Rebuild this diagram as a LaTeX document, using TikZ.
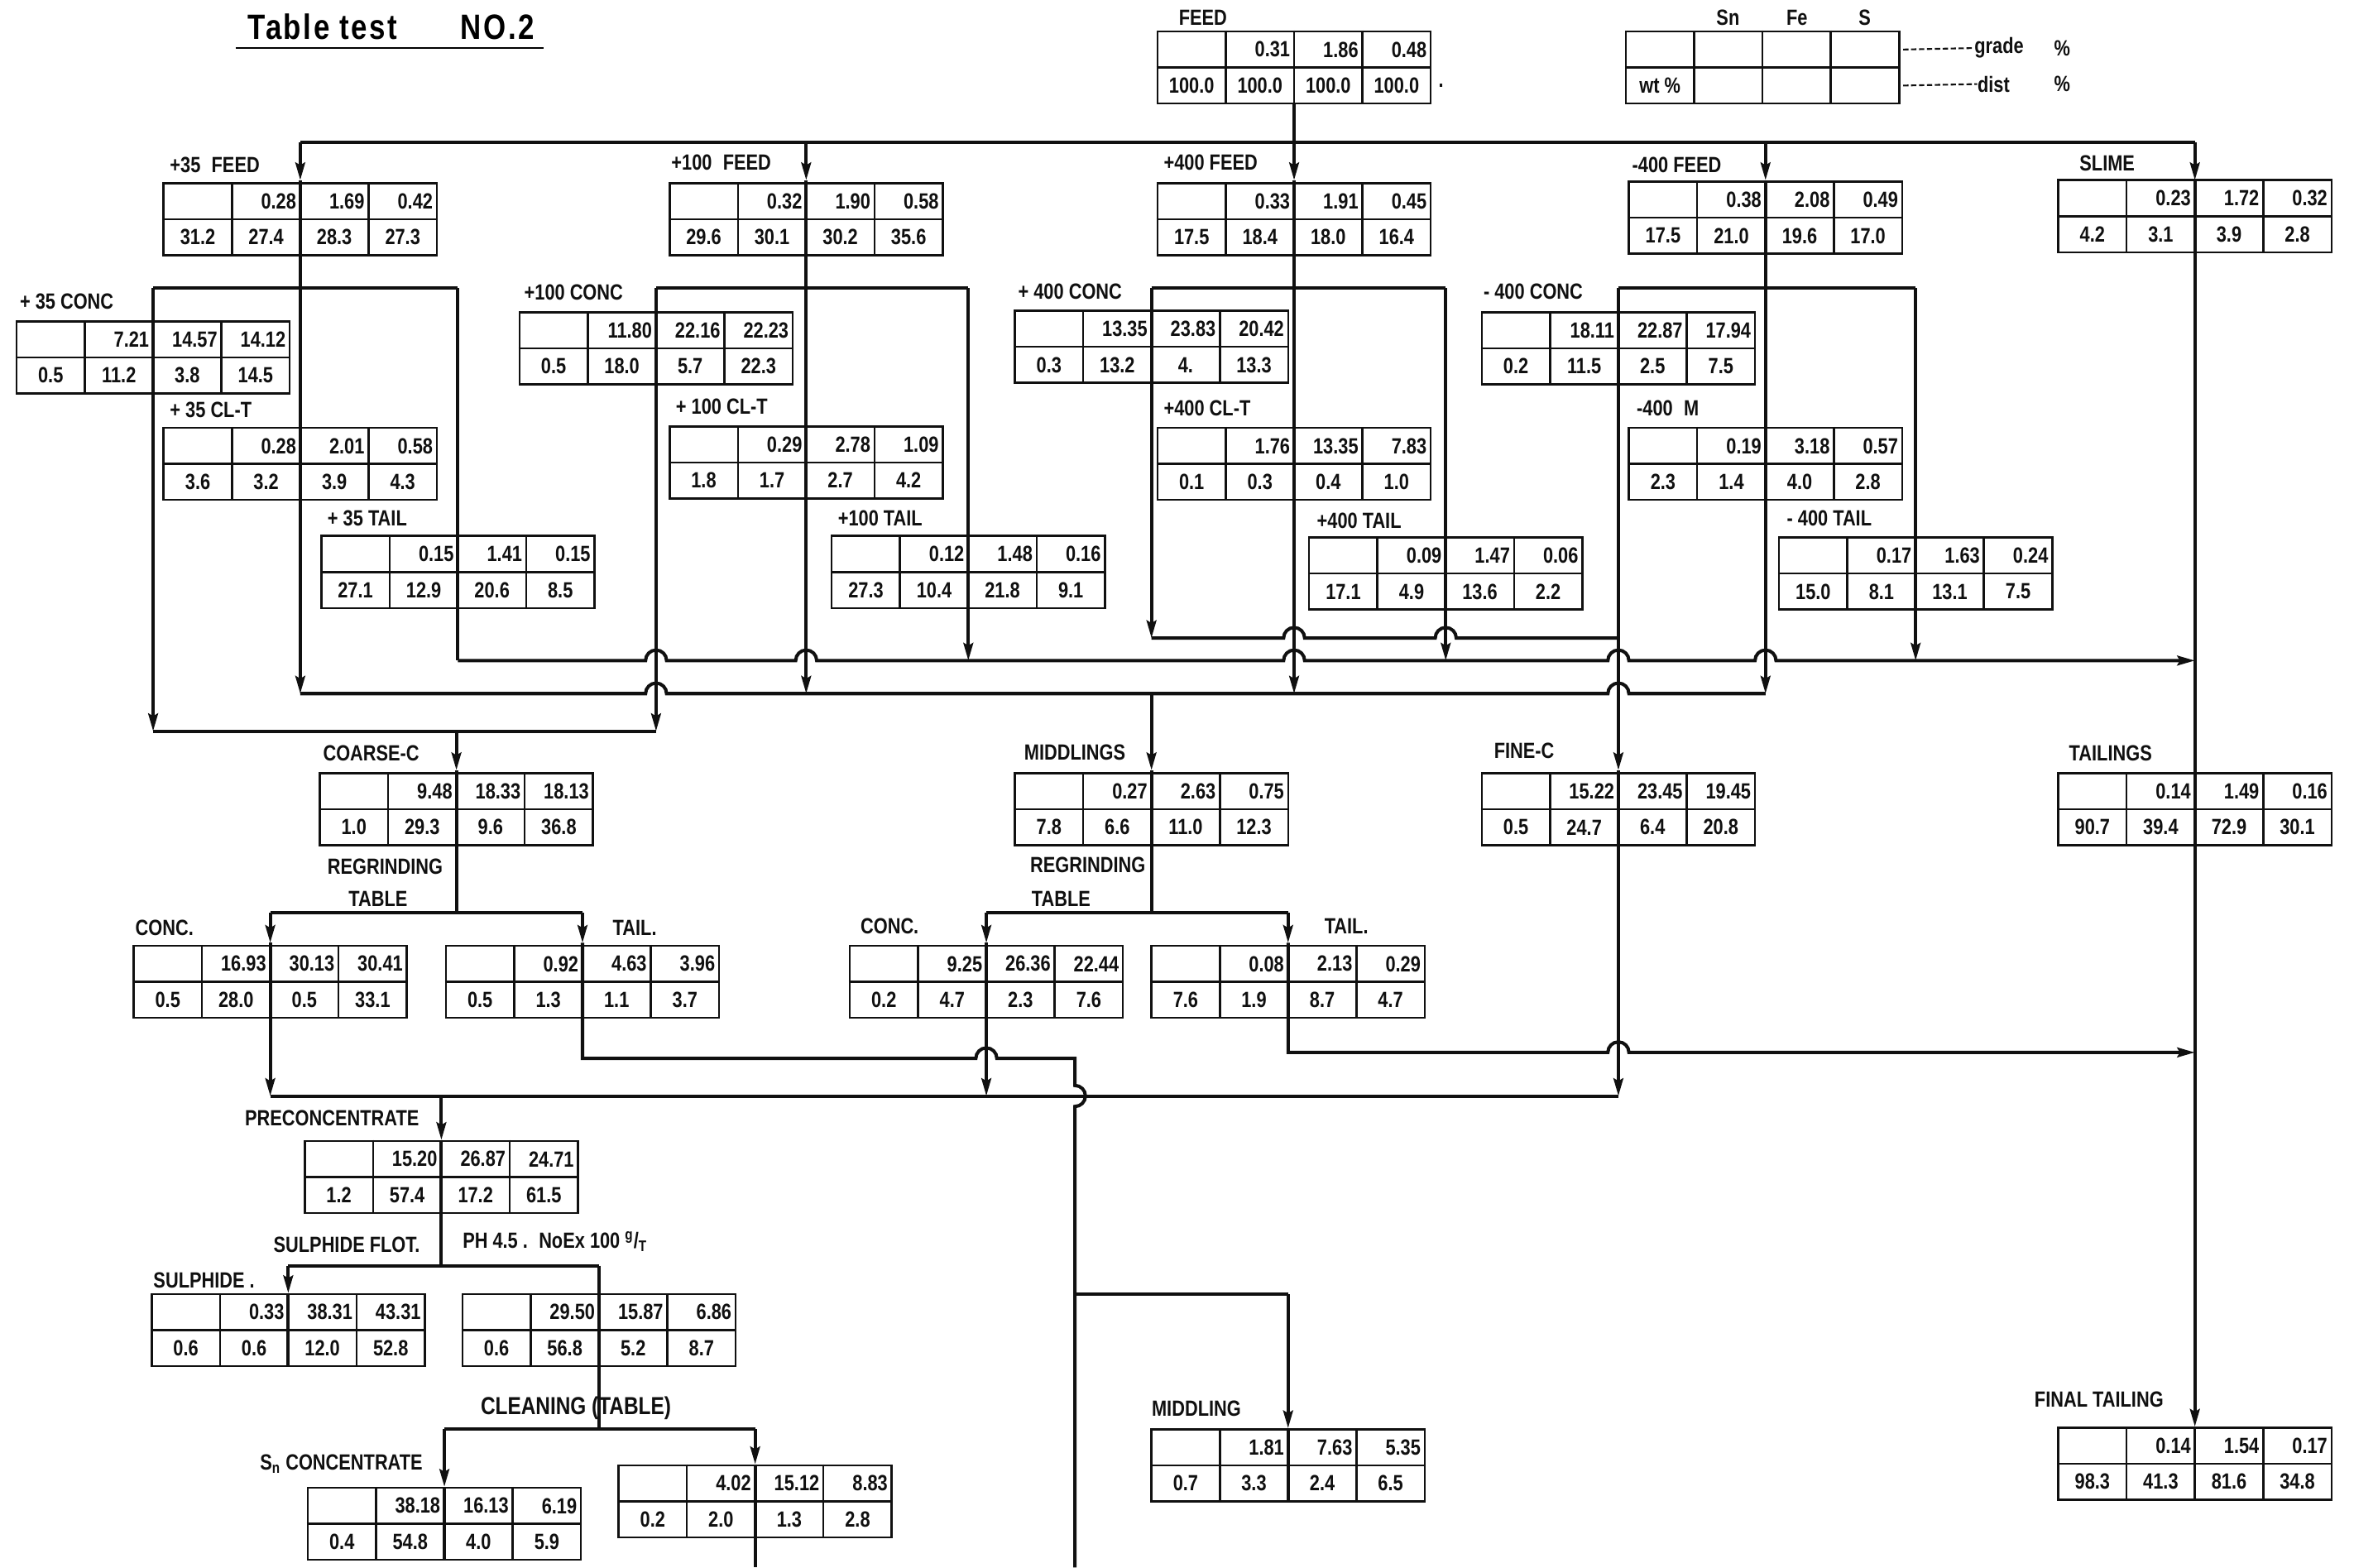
\documentclass[tikz,border=0pt]{standalone}
\usepackage{fontspec}
\setmainfont{Liberation Sans}[FakeStretch=0.82]
\newfontfamily\titlefont{Liberation Sans}[FakeStretch=0.82, LetterSpace=6]
\usetikzlibrary{calc, arrows.meta}
\definecolor{inkLine}{HTML}{101010}
\definecolor{paper}{HTML}{FFFFFF}

\newcommand{\cellfont}{\fontsize{12.5}{14}\selectfont\bfseries}
\newcommand{\labfont}{\fontsize{12.5}{14}\selectfont\bfseries}

\tikzset{
  flow/.style={draw=inkLine, line width=1.9pt},
  flowarr/.style={flow, -{Stealth[length=10pt,width=5.5pt,inset=1.5pt]}},
  tabframe/.style={draw=inkLine, line width=1.2pt, minimum width=54.6mm, minimum height=14.4mm, inner sep=0pt},
  tabrule/.style={draw=inkLine, line width=1.2pt},
  gradecell/.style={anchor=east, inner sep=0pt, font=\cellfont, text=inkLine},
  distcell/.style={anchor=center, inner sep=0pt, font=\cellfont, text=inkLine},
  lab/.style={anchor=west, inner sep=0pt, font=\labfont, text=inkLine},
  leader/.style={draw=inkLine, line width=1pt, dash pattern=on 3pt off 1.5pt},
  hop/.style={start angle=180, end angle=360, radius=7},
  vhop/.style={start angle=-90, end angle=90, radius=7}
}

% assay box: name, centre, Sn/Fe/S grade, wt, Sn/Fe/S dist
\newcommand{\assaytab}[9]{%
  \node[tabframe] (#1) at (#2) {};
  \draw[tabrule] (#1.west) -- (#1.east);
  \foreach \k in {-45.5,0,45.5}
    \draw[tabrule] ($(#1.north)+(\k,0)$) -- ($(#1.south)+(\k,0)$);
  \node[gradecell] (#1-sn) at ($(#1)+(-2.5,-12)$) {#3};
  \node[gradecell] (#1-fe) at ($(#1)+(43,-12)$) {#4};
  \node[gradecell] (#1-s) at ($(#1)+(88.5,-12)$) {#5};
  \node[distcell] (#1-wt) at ($(#1)+(-68.25,12)$) {#6};
  \node[distcell] (#1-snd) at ($(#1)+(-22.75,12)$) {#7};
  \node[distcell] (#1-fed) at ($(#1)+(22.75,12)$) {#8};
  \node[distcell] (#1-sd) at ($(#1)+(68.25,12)$) {#9};
}

\begin{document}
\begin{tikzpicture}[x=0.3mm, y=-0.3mm]
\fill[paper] (0,0) rectangle (1568,1044);
\useasboundingbox (0,0) rectangle (1568,1044);

\node[anchor=west, inner sep=0pt, font=\titlefont\fontsize{20}{22}\selectfont\bfseries] (title) at (165,18) {Table test\hspace{1.8em}NO.2};
\draw[line width=1.3pt] (157,32) -- (362,32);

% assay boxes
\assaytab{feed}{862,45}{0.31}{1.86}{0.48}{100.0}{100.0}{100.0}{100.0}
\assaytab{key}{1174,45}{}{}{}{wt \%}{}{}{}
\assaytab{f35}{200,146}{0.28}{1.69}{0.42}{31.2}{27.4}{28.3}{27.3}
\assaytab{f100}{537,146}{0.32}{1.90}{0.58}{29.6}{30.1}{30.2}{35.6}
\assaytab{f400}{862,146}{0.33}{1.91}{0.45}{17.5}{18.4}{18.0}{16.4}
\assaytab{fm400}{1176,145}{0.38}{2.08}{0.49}{17.5}{21.0}{19.6}{17.0}
\assaytab{slime}{1462,144}{0.23}{1.72}{0.32}{4.2}{3.1}{3.9}{2.8}
\assaytab{c35}{102,238}{7.21}{14.57}{14.12}{0.5}{11.2}{3.8}{14.5}
\assaytab{c100}{437,232}{11.80}{22.16}{22.23}{0.5}{18.0}{5.7}{22.3}
\assaytab{c400}{767,231}{13.35}{23.83}{20.42}{0.3}{13.2}{4.}{13.3}
\assaytab{cm400}{1078,232}{18.11}{22.87}{17.94}{0.2}{11.5}{2.5}{7.5}
\assaytab{m35}{200,309}{0.28}{2.01}{0.58}{3.6}{3.2}{3.9}{4.3}
\assaytab{m100}{537,308}{0.29}{2.78}{1.09}{1.8}{1.7}{2.7}{4.2}
\assaytab{m400}{862,309}{1.76}{13.35}{7.83}{0.1}{0.3}{0.4}{1.0}
\assaytab{mm400}{1176,309}{0.19}{3.18}{0.57}{2.3}{1.4}{4.0}{2.8}
\assaytab{t35}{305,381}{0.15}{1.41}{0.15}{27.1}{12.9}{20.6}{8.5}
\assaytab{t100}{645,381}{0.12}{1.48}{0.16}{27.3}{10.4}{21.8}{9.1}
\assaytab{t400}{963,382}{0.09}{1.47}{0.06}{17.1}{4.9}{13.6}{2.2}
\assaytab{tm400}{1276,382}{0.17}{1.63}{0.24}{15.0}{8.1}{13.1}{7.5}
\assaytab{coarse}{304,539}{9.48}{18.33}{18.13}{1.0}{29.3}{9.6}{36.8}
\assaytab{midd}{767,539}{0.27}{2.63}{0.75}{7.8}{6.6}{11.0}{12.3}
\assaytab{fine}{1078,539}{15.22}{23.45}{19.45}{0.5}{24.7}{6.4}{20.8}
\assaytab{tails}{1462,539}{0.14}{1.49}{0.16}{90.7}{39.4}{72.9}{30.1}
\assaytab{rcconc}{180,654}{16.93}{30.13}{30.41}{0.5}{28.0}{0.5}{33.1}
\assaytab{rctail}{388,654}{0.92}{4.63}{3.96}{0.5}{1.3}{1.1}{3.7}
\assaytab{rmconc}{657,654}{9.25}{26.36}{22.44}{0.2}{4.7}{2.3}{7.6}
\assaytab{rmtail}{858,654}{0.08}{2.13}{0.29}{7.6}{1.9}{8.7}{4.7}
\assaytab{precon}{294,784}{15.20}{26.87}{24.71}{1.2}{57.4}{17.2}{61.5}
\assaytab{sulph}{192,886}{0.33}{38.31}{43.31}{0.6}{0.6}{12.0}{52.8}
\assaytab{flottail}{399,886}{29.50}{15.87}{6.86}{0.6}{56.8}{5.2}{8.7}
\assaytab{snconc}{296,1015}{38.18}{16.13}{6.19}{0.4}{54.8}{4.0}{5.9}
\assaytab{cleantail}{503,1000}{4.02}{15.12}{8.83}{0.2}{2.0}{1.3}{2.8}
\assaytab{middling}{858,976}{1.81}{7.63}{5.35}{0.7}{3.3}{2.4}{6.5}
\assaytab{final}{1462,975}{0.14}{1.54}{0.17}{98.3}{41.3}{81.6}{34.8}

% key
\node[lab, anchor=center] (keysn) at (1151,12) {Sn};
\node[lab, anchor=center] (keyfe) at (1197,12) {Fe};
\node[lab, anchor=center] (keys) at (1242,12) {S};
\node[lab] (keygrade) at (1315,32) {grade};
\node[lab] (keypc1) at (1368,32) {\%};
\node[lab] (keydist) at (1317,56) {dist};
\node[lab] (keypc2) at (1368,56) {\%};
\draw[leader] ($(key.east)+(2,-12)$) -- (keygrade.west);
\draw[leader] ($(key.east)+(2,12)$) -- (keydist.west);
\node[lab] (feeddot) at (958,57) {.};

% labels
\node[lab] (lfeed) at (785,12) {FEED};
\node[lab] (l35feed) at (113,110) {+35\enspace FEED};
\node[lab] (l100feed) at (447,108) {+100\enspace FEED};
\node[lab] (l400feed) at (775,108) {+400 FEED};
\node[lab] (lm400feed) at (1087,110) {-400 FEED};
\node[lab] (lslime) at (1385,109) {SLIME};
\node[lab] (l35conc) at (13,201) {+ 35 CONC};
\node[lab] (l100conc) at (349,195) {+100 CONC};
\node[lab] (l400conc) at (678,194) {+ 400 CONC};
\node[lab] (lm400conc) at (988,194) {- 400 CONC};
\node[lab] (l35clt) at (113,273) {+ 35 CL-T};
\node[lab] (l100clt) at (450,271) {+ 100 CL-T};
\node[lab] (l400clt) at (775,272) {+400 CL-T};
\node[lab] (lm400m) at (1090,272) {-400\enspace M};
\node[lab] (l35tail) at (218,345) {+ 35 TAIL};
\node[lab] (l100tail) at (558,345) {+100 TAIL};
\node[lab] (l400tail) at (877,347) {+400 TAIL};
\node[lab] (lm400tail) at (1190,345) {- 400 TAIL};
\node[lab] (lcoarse) at (215,502) {COARSE-C};
\node[lab] (lmidd) at (682,501) {MIDDLINGS};
\node[lab] (lfine) at (995,500) {FINE-C};
\node[lab] (ltails) at (1378,502) {TAILINGS};
\node[lab] (lregc) at (218,577) {REGRINDING};
\node[lab] (ltabc) at (232,599) {TABLE};
\node[lab] (lregm) at (686,576) {REGRINDING};
\node[lab] (ltabm) at (687,599) {TABLE};
\node[lab] (lrcconc) at (90,618) {CONC.};
\node[lab] (lrctail) at (408,618) {TAIL.};
\node[lab] (lrmconc) at (573,617) {CONC.};
\node[lab] (lrmtail) at (882,617) {TAIL.};
\node[lab] (lprecon) at (163,745) {PRECONCENTRATE};
\node[lab] (lsflot) at (182,829) {SULPHIDE FLOT.};
\node[lab] (lph) at (308,827) {PH 4.5 .\enspace NoEx 100 \textsuperscript{g}/\textsubscript{T}};
\node[lab] (lsulph) at (102,853) {SULPHIDE .};
\node[lab, font=\fontsize{14}{16}\selectfont\bfseries] (lclean) at (320,938) {CLEANING (TABLE)};
\node[lab] (lsnconc) at (173,975) {S\textsubscript{n} CONCENTRATE};
\node[lab] (lmiddling) at (767,938) {MIDDLING};
\node[lab] (lfinal) at (1355,932) {FINAL TAILING};

% junction points
\coordinate (b35) at (200,95);
\coordinate (b100) at (537,95);
\coordinate (b400) at (862,95);
\coordinate (bm400) at (1176,95);
\coordinate (bsl) at (1462,95);
\coordinate (s35c) at (102,192);
\coordinate (s35t) at (305,192);
\coordinate (s100c) at (437,192);
\coordinate (s100t) at (645,192);
\coordinate (s400c) at (767,192);
\coordinate (s400t) at (963,192);
\coordinate (sm400c) at (1078,192);
\coordinate (sm400t) at (1276,192);
\coordinate (f0) at (767,425);
\coordinate (fEnd) at (1078,425);
\coordinate (t0) at (305,440);
\coordinate (tEnd) at (1462,440);
\coordinate (m0) at (200,462);
\coordinate (mEnd) at (1176,462);
\coordinate (c0) at (102,487);
\coordinate (cEnd) at (437,487);
\coordinate (cOut) at (304,487);
\coordinate (mOut) at (767,462);
\coordinate (rc) at (304,608);
\coordinate (rcC) at (180,608);
\coordinate (rcT) at (388,608);
\coordinate (rm) at (767,608);
\coordinate (rmC) at (657,608);
\coordinate (rmT) at (858,608);
\coordinate (p0) at (180,730);
\coordinate (pEnd) at (1078,730);
\coordinate (pOut) at (294,730);
\coordinate (sf) at (294,843);
\coordinate (sfC) at (192,843);
\coordinate (sfT) at (399,843);
\coordinate (cl) at (399,952);
\coordinate (clC) at (296,952);
\coordinate (clT) at (503,952);
\coordinate (mbr) at (716,862);
\coordinate (mbrE) at (858,862);

% feed distribution
\draw[flow] (feed.south) -- (b400);
\draw[flow] (b35) -- (bsl);
\draw[flowarr] (b35) -- (200,120);
\draw[flowarr] (200,120) -- (m0);
\draw[flowarr] (b100) -- (537,120);
\draw[flowarr] (537,120) -- (537,462);
\draw[flowarr] (b400) -- (862,120);
\draw[flowarr] (862,120) -- (862,462);
\draw[flowarr] (bm400) -- (1176,120);
\draw[flowarr] (1176,120) -- (mEnd);
\draw[flowarr] (bsl) -- (1462,120);
\draw[flowarr] (1462,120) -- (final.north);

% table splits
\draw[flow] (s35c) -- (s35t);
\draw[flow] (s100c) -- (s100t);
\draw[flow] (s400c) -- (s400t);
\draw[flow] (sm400c) -- (sm400t);
\draw[flowarr] (s35c) -- (c0);
\draw[flow] (s35t) -- (t0);
\draw[flowarr] (s100c) -- (cEnd);
\draw[flowarr] (s100t) -- (645,440);
\draw[flowarr] (s400c) -- (f0);
\draw[flowarr] (s400t) -- (963,440);
\draw[flowarr] (sm400c) -- (1078,513);
\draw[flowarr] (1078,513) -- (pEnd);
\draw[flowarr] (sm400t) -- (1276,440);

% collecting lines
\draw[flow] (f0) -- (855,425) arc[hop] -- (956,425) arc[hop] -- (fEnd);
\draw[flowarr] (t0) -- (430,440) arc[hop] -- (530,440) arc[hop] -- (855,440) arc[hop]
  -- (1071,440) arc[hop] -- (1169,440) arc[hop] -- (tEnd);
\draw[flow] (m0) -- (430,462) arc[hop] -- (1071,462) arc[hop] -- (mEnd);
\draw[flow] (c0) -- (cEnd);
\draw[flowarr] (cOut) -- (304,513);
\draw[flow] (304,513) -- (rc);
\draw[flowarr] (mOut) -- (767,513);
\draw[flow] (767,513) -- (rm);

% regrinding tables
\draw[flow] (rcC) -- (rcT);
\draw[flowarr] (rcC) -- (180,628);
\draw[flowarr] (180,628) -- (p0);
\draw[flowarr] (rcT) -- (388,628);
\draw[flow] (388,628) -- (388,705) -- (650,705) arc[hop] -- (716,705) -- (716,723) arc[vhop] -- (716,1044);
\draw[flow] (rmC) -- (rmT);
\draw[flowarr] (rmC) -- (657,628);
\draw[flowarr] (657,628) -- (657,730);
\draw[flowarr] (rmT) -- (858,628);
\draw[flowarr] (858,628) -- (858,701) -- (1071,701) arc[hop] -- (1462,701);
\draw[flow] (mbr) -- (mbrE);
\draw[flowarr] (mbrE) -- (middling.north);
\draw[flow] (middling.north) -- (middling.south);

% preconcentrate, flotation, cleaning
\draw[flow] (p0) -- (pEnd);
\draw[flowarr] (pOut) -- (precon.north);
\draw[flow] (precon.north) -- (sf);
\draw[flow] (sfC) -- (sfT);
\draw[flowarr] (sfC) -- (sulph.north);
\draw[flow] (sulph.north) -- (sulph.south);
\draw[flow] (sfT) -- (cl);
\draw[flow] (clC) -- (clT);
\draw[flowarr] (clC) -- (snconc.north);
\draw[flow] (snconc.north) -- (snconc.south);
\draw[flowarr] (clT) -- (cleantail.north);
\draw[flow] (cleantail.north) -- (503,1044);
\end{tikzpicture}
\end{document}
